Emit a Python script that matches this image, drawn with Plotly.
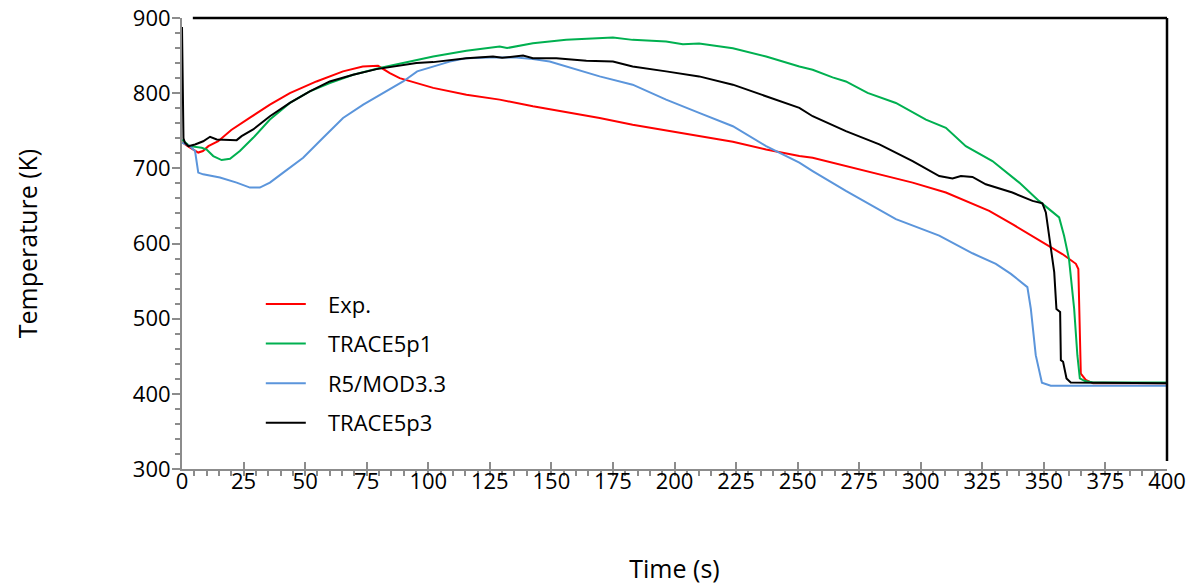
import plotly.graph_objects as go

# ---- data ----
exp_t = [0, 2, 4.6, 6.6, 8.5, 10.7, 14.7, 20, 27.6, 35.7, 43.8, 54.6, 65.4, 73.4, 79.6, 84.4, 88.4, 95.7, 102,
         115.5, 129, 142.5, 156, 169.6, 183, 196.6, 210, 223.7, 237.2, 250.7, 256.1, 269.6, 283.2, 296.7, 310.2,
         319.7, 327.8, 337.2, 345.4, 350.8, 357.5, 363, 364, 365, 367, 370, 400]
exp_T = [735, 730, 725, 721, 723, 729.5, 736, 751, 767.5, 784.7, 800, 815.6, 829, 835.5, 836.4, 826.7, 820, 813, 807,
         798, 791.4, 782.5, 775, 767, 758, 750.3, 742.8, 735.3, 725, 716.3, 714.2, 703, 692, 681, 667.8,
         654.6, 643.5, 625.8, 610, 599, 586, 573, 566, 427, 418.5, 414, 414]

tp1_t = [0, 3.2, 8, 10, 12.7, 16.1, 19.5, 23.5, 28.9, 35.7, 43.8, 51.9, 60, 69.5, 80.3, 89.8, 96.6, 102, 115.5,
         129, 132, 142.5, 156, 169.6, 175, 183, 196.6, 203.4, 210, 223.7, 237.2, 250.7, 256.1, 264.2, 269.6,
         278.4, 289.9, 302.1, 310.2, 318.3, 329.1, 340, 348, 356.2, 358.2, 360.2, 362.3, 363.6, 364.6, 366.7,
         370, 400]
tp1_T = [738, 729.5, 727.4, 725, 716.3, 711, 712.8, 723, 740.6, 764.9, 787, 802.4, 813.5, 824.5, 833.4, 840, 845.3,
         848.7, 856.3, 862, 860, 866.5, 870.9, 873, 874, 870.9, 868.7, 865, 866, 859.8, 848.7, 835.5, 831.1, 821,
         815.6, 800.3, 787, 764.9, 753.9, 729.5, 709.7, 681, 656.7, 634.7, 610.4, 579.5, 513, 451.4, 420.5, 417,
         415, 415]

r5_t = [0, 3.2, 5.3, 6.6, 8.6, 15.4, 22.2, 27.6, 31.6, 35.7, 41.1, 49.2, 57.3, 65.4, 73.6, 81.7, 89.8, 95.5, 102,
        108.7, 115.5, 125, 135.8, 142.5, 149.3, 156, 169.6, 183, 196.6, 210, 223.7, 237.2, 250.7, 256.1, 269.6,
        289.9, 307.5, 321, 330.5, 336.6, 343.3, 344.7, 346.7, 349.2, 352.8, 400]
r5_T = [734, 729.5, 723, 694.3, 692, 687.7, 681, 674.4, 674.4, 681, 694.3, 714, 740.6, 767, 784.8, 800.3, 815.6,
        829, 835.5, 842, 846.6, 847.5, 847.5, 845.3, 842, 835.5, 822.3, 811.3, 791.4, 773.8, 756, 729.5, 707.5,
        696.4, 670, 632.5, 610.4, 587, 572.8, 559.6, 542, 513.2, 451.4, 414.8, 410.9, 410.9]

tp3_t = [0, 0.6, 1.2, 2.6, 5.3, 8.6, 11.4, 14.1, 22.2, 24.2, 28.9, 35.7, 43.8, 51.9, 60, 69.5, 79, 87.1, 95.2,
         102, 108.7, 115.5, 126.3, 130, 138.5, 142.5, 152, 164.2, 175, 183, 196.6, 210, 223.7, 237.2, 250.7,
         256.1, 269.6, 283.2, 296.7, 307.5, 312.9, 316.3, 321, 326.4, 337.2, 345.4, 349.4, 350.8, 352.1, 354.2,
         355.1, 356.6, 356.9, 357.8, 359.2, 360.9, 400]
tp3_T = [888, 740, 734, 729.5, 731.8, 736, 742, 738.5, 737.5, 742.8, 751.7, 769.3, 787, 802.4, 815.6, 824.5, 832,
         835.5, 840, 841.3, 844.4, 846.6, 848.7, 847, 850, 846.6, 846.6, 843, 842, 835.5, 829, 822.3, 811.3,
         796, 780.4, 769.3, 749.4, 731.8, 709.7, 689.8, 686.4, 689.8, 688.5, 678.8, 667.8, 656.7, 653.5, 641.3,
         610.4, 561.8, 513, 508.9, 444.8, 442.6, 420.5, 415, 414]

series = [
    ("Exp.", exp_t, exp_T, "#FF0000"),
    ("TRACE5p1", tp1_t, tp1_T, "#00B050"),
    ("R5/MOD3.3", r5_t, r5_T, "#5B95DB"),
    ("TRACE5p3", tp3_t, tp3_T, "#000000"),
]

x_ticks = list(range(0, 401, 25))
y_ticks = list(range(300, 901, 100))

FONT = "Open Sans"
AX = "#8C8C8C"
PAD = "\u00a0\u00a0\u00a0"

fig = go.Figure()
for i, (name, t, T, c) in enumerate(series):
    fig.add_trace(go.Scatter(x=t, y=T, mode="lines", name=PAD + name, legendgroup=name,
                             line=dict(color=c, width=2)))

fig.update_layout(
    width=1200, height=588,
    margin=dict(l=182, r=33, t=18, b=119),
    paper_bgcolor="white", plot_bgcolor="white",
    font=dict(family=FONT, color="black"),
    showlegend=True,
    legend=dict(x=0.080, y=0.412, xanchor="left", yanchor="top",
                font=dict(family=FONT, size=22, color="black"),
                bgcolor="rgba(0,0,0,0)", tracegroupgap=8, itemwidth=40),
    xaxis=dict(range=[0, 400], tickvals=x_ticks, ticktext=[str(v) for v in x_ticks],
               showline=True, linecolor=AX, linewidth=2, ticks="inside", ticklen=7,
               tickcolor=AX, tickwidth=2, showgrid=False, zeroline=False,
               tickfont=dict(size=22, family=FONT), ticklabelstandoff=-8,
               minor=dict(dtick=5, ticks="outside", ticklen=5, tickcolor=AX, tickwidth=1.5, showgrid=False),
               title=dict(text="Time (s)", font=dict(size=25, family=FONT), standoff=66),
               automargin=False),
    xaxis2=dict(range=[0, 400], overlaying="x", anchor="y", side="bottom",
                tickvals=x_ticks, showticklabels=False, ticks="outside", ticklen=7,
                tickcolor=AX, tickwidth=2, showline=False, showgrid=False, zeroline=False),
    yaxis=dict(range=[300, 900], tickvals=y_ticks, ticktext=[str(v) for v in y_ticks],
               showline=True, linecolor=AX, linewidth=2, ticks="outside", ticklen=8,
               tickcolor=AX, tickwidth=2, showgrid=False, zeroline=False,
               tickfont=dict(size=22, family=FONT), ticklabelstandoff=-3,
               minor=dict(dtick=20, ticks="outside", ticklen=5, tickcolor=AX, tickwidth=1.5, showgrid=False),
               title=dict(text="Temperature (K)", font=dict(size=25, family=FONT), standoff=88),
               automargin=False),
    shapes=[
        dict(type="line", xref="paper", yref="paper", x0=0.011, x1=1.0, y0=1.0, y1=1.0,
             line=dict(color="black", width=2.5)),
        dict(type="line", xref="paper", yref="paper", x0=1.0, x1=1.0, y0=1.0, y1=0.018,
             line=dict(color="black", width=2.5)),
    ],
)

fig.write_html("out.html", config={"displayModeBar": False},
               post_script="document.body.style.margin='0px';")
